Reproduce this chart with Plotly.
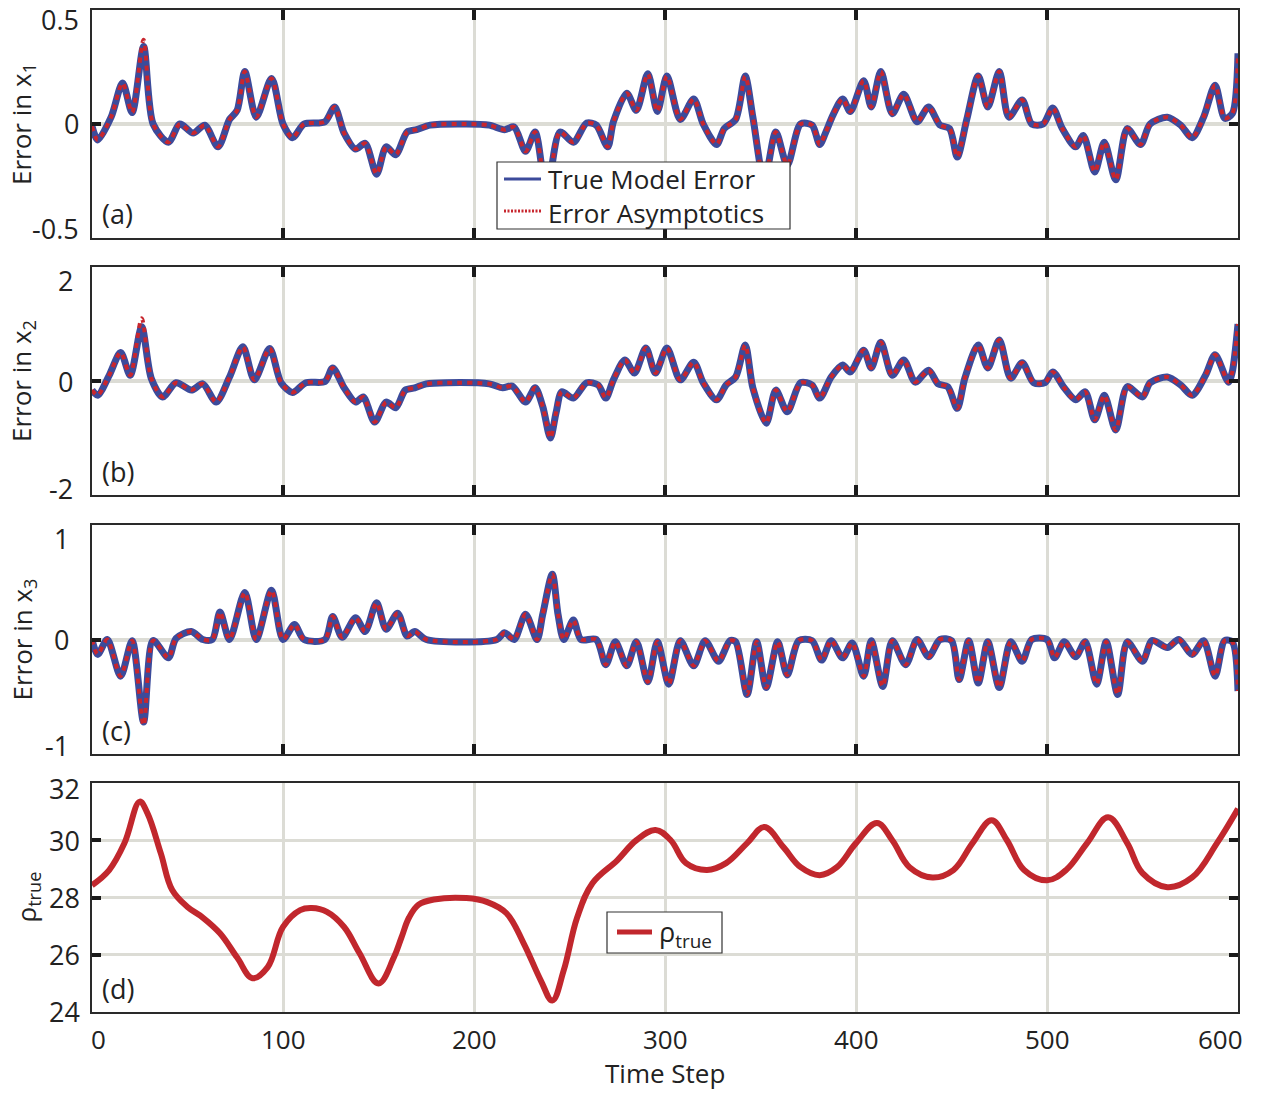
import plotly.graph_objects as go

# ---------------- data ----------------
t_a = [0, 3, 10, 16, 21, 27, 32, 40, 46, 53, 59, 66, 72, 76, 80, 86, 94, 100, 105, 111,
       122, 127, 132, 138, 143, 149, 154, 159, 165, 170, 177, 196, 208, 216, 221, 227,
       232, 238, 245, 252, 259, 264, 270, 273, 280, 285, 291, 296, 301, 308, 315, 320,
       327, 331, 337, 342, 346, 352, 358, 364, 371, 377, 381, 384, 388, 393, 397, 404,
       408, 413, 419, 425, 432, 438, 444, 449, 453, 458, 464, 469, 475, 480, 487, 492,
       498, 503, 508, 515, 519, 525, 530, 536, 542, 549, 554, 563, 570, 576, 582, 588,
       593, 597, 600]
err_x1 = [-0.01, -0.07, 0.03, 0.18, 0.05, 0.34, 0.0, -0.08, 0.0, -0.04, -0.005, -0.10,
          0.02, 0.06, 0.23, 0.03, 0.20, 0.0, -0.06, 0.0, 0.01, 0.075, -0.04, -0.11,
          -0.085, -0.22, -0.10, -0.135, -0.035, -0.025, -0.005, 0.0, -0.005, -0.025,
          -0.013, -0.12, -0.035, -0.30, -0.035, -0.08, 0.004, -0.005, -0.10, 0.01, 0.135,
          0.06, 0.22, 0.055, 0.21, 0.02, 0.11, 0.0, -0.09, -0.02, 0.02, 0.21, 0.03, -0.25,
          -0.035, -0.18, 0.0, -0.005, -0.09, -0.04, 0.04, 0.11, 0.055, 0.19, 0.075, 0.23,
          0.045, 0.13, 0.01, 0.075, -0.005, -0.02, -0.145, 0.02, 0.21, 0.075, 0.23, 0.03,
          0.105, 0.0, 0.0, 0.07, -0.02, -0.10, -0.05, -0.21, -0.08, -0.245, -0.02, -0.09,
          0.0, 0.03, -0.005, -0.06, 0.03, 0.17, 0.025, 0.045, 0.31]
err_x1_asym_peaks = {27: 0.37}

t_b = [0, 3, 9, 15, 20, 26, 31, 37, 44, 52, 58, 65, 72, 79, 85, 93, 99, 105, 112, 122,
       126, 132, 138, 142, 148, 154, 159, 164, 169, 175, 186, 208, 215, 220, 227, 232,
       236, 240, 243, 246, 252, 259, 265, 269, 273, 279, 284, 290, 295, 301, 308, 315,
       320, 327, 332, 337, 342, 346, 353, 358, 364, 371, 377, 381, 387, 393, 397, 404,
       408, 413, 419, 425, 431, 438, 443, 448, 453, 457, 464, 469, 475, 481, 487, 493,
       499, 503, 509, 515, 520, 525, 530, 536, 542, 550, 554, 563, 570, 576, 583, 588,
       595, 597, 600]
err_x2 = [-0.16, -0.25, 0.1, 0.5, 0.1, 0.95, 0.05, -0.28, -0.03, -0.16, -0.05, -0.37,
          0.07, 0.6, 0.02, 0.57, -0.03, -0.2, -0.03, -0.01, 0.23, -0.12, -0.37, -0.28,
          -0.72, -0.37, -0.47, -0.16, -0.12, -0.05, -0.03, -0.05, -0.12, -0.09, -0.37,
          -0.12, -0.45, -1.0, -0.55, -0.19, -0.3, -0.03, -0.07, -0.3, 0.02, 0.37, 0.14,
          0.58, 0.14, 0.58, 0.02, 0.33, -0.03, -0.33, -0.07, 0.07, 0.63, -0.12, -0.74,
          -0.16, -0.54, -0.03, -0.07, -0.3, 0.07, 0.28, 0.16, 0.54, 0.23, 0.68, 0.1, 0.37,
          -0.02, 0.19, -0.05, -0.1, -0.48, 0.05, 0.63, 0.23, 0.72, 0.05, 0.32, -0.03,
          -0.03, 0.16, -0.12, -0.33, -0.19, -0.68, -0.25, -0.86, -0.1, -0.28, -0.03, 0.07,
          -0.07, -0.25, 0.1, 0.46, -0.02, 0.16, 1.0]
err_x2_asym_peaks = {26: 1.1}

t_c = [0, 3, 8, 15, 21, 27, 32, 40, 44, 52, 58, 63, 67, 72, 80, 86, 94, 100, 106, 111,
       122, 126, 131, 138, 143, 149, 154, 160, 165, 169, 175, 212, 216, 221, 227, 233,
       236, 241, 244, 247, 252, 256, 264, 269, 274, 280, 285, 291, 296, 302, 308, 315,
       321, 328, 334, 337, 343, 348, 353, 359, 364, 370, 377, 382, 387, 393, 398, 404,
       408, 414, 419, 426, 432, 438, 444, 450, 454, 459, 464, 469, 475, 481, 487, 492,
       500, 504, 509, 515, 520, 526, 531, 537, 542, 550, 555, 563, 569, 576, 582, 588,
       593, 597, 600]
err_x3 = [0.0, -0.13, 0.0, -0.32, -0.01, -0.72, -0.01, -0.16, 0.01, 0.07, 0.0, 0.0, 0.24,
          0.0, 0.41, 0.0, 0.43, 0.0, 0.13, 0.0, 0.0, 0.2, 0.02, 0.19, 0.07, 0.32, 0.09,
          0.23, 0.03, 0.07, 0.0, 0.0, 0.06, 0.0, 0.22, 0.0, 0.22, 0.57, 0.22, 0.0, 0.17,
          0.0, 0.0, -0.22, -0.02, -0.23, -0.02, -0.37, -0.02, -0.39, -0.01, -0.23, -0.01,
          -0.19, -0.01, -0.02, -0.48, -0.02, -0.42, -0.02, -0.31, -0.01, -0.01, -0.18,
          -0.01, -0.16, -0.03, -0.32, -0.01, -0.41, -0.01, -0.22, 0.0, -0.15, 0.0, -0.01,
          -0.35, -0.01, -0.38, -0.02, -0.42, -0.02, -0.19, 0.0, 0.0, -0.16, -0.02, -0.15,
          -0.02, -0.39, -0.02, -0.48, -0.02, -0.19, -0.01, -0.07, 0.0, -0.13, -0.01, -0.32,
          -0.01, -0.02, -0.45]
err_x3_asym_peaks = {27: -0.75}

t_d = [0, 9, 17, 25, 29, 36, 42, 50, 58, 67, 76, 84, 92, 100, 109, 115, 123, 132, 140,
       150, 158, 162, 166, 171, 179, 196, 207, 217, 226, 235, 241, 247, 254, 262, 275,
       285, 295, 303, 311, 322, 332, 343, 352, 362, 371, 381, 390, 400, 411, 419, 428,
       440, 451, 461, 471, 479, 488, 500, 510, 521, 532, 542, 550, 563, 576, 589, 600]
rho_true = [28.43, 28.96, 29.9, 31.35, 30.95, 29.55, 28.26, 27.67, 27.3, 26.75, 25.9,
            25.18, 25.57, 26.97, 27.56, 27.63, 27.5, 26.97, 26.06, 25.0, 25.9, 26.6, 27.3,
            27.75, 27.93, 27.98, 27.84, 27.45, 26.4, 25.1, 24.4, 25.46, 27.3, 28.5, 29.3,
            30.0, 30.36, 30.0, 29.2, 28.96, 29.2, 29.9, 30.46, 29.76, 29.06, 28.78, 29.06,
            29.9, 30.6, 30.0, 29.06, 28.7, 28.96, 29.9, 30.7, 30.0, 28.96, 28.6, 28.96,
            29.9, 30.8, 29.9, 28.85, 28.36, 28.7, 29.9, 31.1]

x_ticks = [0, 100, 200, 300, 400, 500, 600]
y_ticks_a = [-0.5, 0, 0.5]
y_ticks_b = [-2, 0, 2]
y_ticks_c = [-1, 0, 1]
y_ticks_d = [24, 26, 28, 30, 32]
y_titles = ["Error in x<sub>1</sub>", "Error in x<sub>2</sub>", "Error in x<sub>3</sub>",
            "ρ<sub>true</sub>"]
panel_labels = ["(a)", "(b)", "(c)", "(d)"]
legend_a_names = ["True Model Error", "Error Asymptotics"]
legend_d_name = "ρ<sub>true</sub>"
x_title = "Time Step"


def with_peaks(vals, ts, peaks):
    out = list(vals)
    for k, v in peaks.items():
        out[ts.index(k)] = v
    return out


# ---------------- styling / layout ----------------
W, H = 1265, 1093
FONT = "Open Sans"
TXT = "#222222"
BLUE = "#3c4b9b"
RED = "#c8262e"
GRID = "#dcdcd5"
FRAME = "#2a2a2a"

x0_px, x1_px = 92, 1238
panels_px = [(10, 238), (267, 495), (525, 754), (783, 1012)]


def px_x(p):
    return p / W


def px_y(p):
    return 1 - p / H


fig = go.Figure()

series = [
    (t_a, err_x1, err_x1_asym_peaks),
    (t_b, err_x2, err_x2_asym_peaks),
    (t_c, err_x3, err_x3_asym_peaks),
]
for i, (tt, vv, pk) in enumerate(series):
    xa = "x" if i == 0 else f"x{i+1}"
    ya = "y" if i == 0 else f"y{i+1}"
    fig.add_trace(go.Scatter(
        x=tt, y=vv, mode="lines", xaxis=xa, yaxis=ya,
        name=legend_a_names[0], showlegend=False,
        line=dict(color=BLUE, width=7, shape="spline", smoothing=0.8)))
    fig.add_trace(go.Scatter(
        x=tt, y=with_peaks(vv, tt, pk), mode="lines", xaxis=xa, yaxis=ya,
        name=legend_a_names[1], showlegend=False,
        line=dict(color=RED, width=4, dash="5px,5px", shape="spline", smoothing=0.8)))

fig.add_trace(go.Scatter(
    x=t_d, y=rho_true, mode="lines", xaxis="x4", yaxis="y4",
    name=legend_d_name, showlegend=False,
    line=dict(color="#c1272d", width=6, shape="spline", smoothing=1.1)))

xdom = [px_x(x0_px), px_x(x1_px)]
yranges = [(-0.5, 0.5), (-2, 2), (-1, 1), (24, 32)]
yticks = [y_ticks_a, y_ticks_b, y_ticks_c, y_ticks_d]

layout = dict(
    width=W, height=H, template="none",
    paper_bgcolor="white", plot_bgcolor="white",
    margin=dict(l=0, r=0, t=0, b=0),
    font=dict(family=FONT, size=26, color=TXT),
    showlegend=False,
)

for i, (top, bot) in enumerate(panels_px):
    k = "" if i == 0 else str(i + 1)
    last = (i == 3)
    layout["xaxis" + k] = dict(
        domain=xdom, range=[0, 600], anchor="y" + k,
        tickvals=x_ticks, showticklabels=False,
        ticks="" if last else "inside", ticklen=10, tickwidth=4, tickcolor="#1a1a1a",
        showgrid=True, gridcolor=GRID, gridwidth=3,
        showline=True, linecolor=FRAME, linewidth=2, mirror="ticks" if not last else True,
        zeroline=False, automargin=False, fixedrange=True,
    )
    ya = dict(
        domain=[px_y(bot), px_y(top)], range=list(yranges[i]), anchor="x" + k,
        tickvals=yticks[i], showticklabels=False,
        ticks="inside", ticklen=9, tickwidth=4, tickcolor="#1a1a1a",
        showline=True, linecolor=FRAME, linewidth=2, mirror="ticks",
        automargin=False, fixedrange=True,
    )
    if last:
        ya.update(showgrid=True, gridcolor=GRID, gridwidth=3, zeroline=False)
    else:
        ya.update(showgrid=False, zeroline=True, zerolinecolor=GRID, zerolinewidth=4)
    layout["yaxis" + k] = ya

annotations = []
shapes = []

# y tick labels (edge labels nudged inward, as in the reference)
ylab_right_px = [81, 75, 71, 82]
ylab_shift = [{0: 9, 1: 0, 2: -10}, {0: 7, 1: 0, 2: -13}, {0: 9, 1: 0, 2: -13},
              {0: 1, 1: 0, 2: 0, 3: 0, 4: -5}]
for i in range(4):
    k = "" if i == 0 else str(i + 1)
    for j, v in enumerate(yticks[i]):
        annotations.append(dict(
            text=f"{v:g}", xref="paper", yref="y" + k, x=px_x(ylab_right_px[i]), y=v,
            xanchor="right", yanchor="middle", yshift=ylab_shift[i].get(j, 0),
            showarrow=False, font=dict(size=27, family=FONT, color=TXT)))

# x tick labels on bottom panel
xlab_shift = {0: 6, 600: -18}
for v in x_ticks:
    annotations.append(dict(
        text=f"{v:g}", xref="x4", yref="paper", x=v, y=px_y(1039),
        xanchor="center", yanchor="middle", xshift=xlab_shift.get(v, 0),
        showarrow=False, font=dict(size=26, family=FONT, color=TXT)))

annotations.append(dict(
    text=x_title, xref="paper", yref="paper", x=px_x(665), y=0,
    xanchor="center", yanchor="bottom", showarrow=False,
    font=dict(size=26, family=FONT, color=TXT)))

ytitle_x_px = [22, 22, 22, 26]
for i, (top, bot) in enumerate(panels_px):
    mid = (top + bot) / 2
    annotations.append(dict(
        text=y_titles[i], xref="paper", yref="paper",
        x=px_x(ytitle_x_px[i]), y=px_y(mid), xanchor="center", yanchor="middle",
        textangle=-90, showarrow=False,
        font=dict(size=26, family=FONT, color=TXT)))
    annotations.append(dict(
        text=panel_labels[i], xref="paper", yref="paper",
        x=px_x(100), y=px_y(bot - 24), xanchor="left", yanchor="middle",
        showarrow=False, font=dict(size=27, family=FONT, color=TXT)))

# legend (a): box, line samples, labels (one two-line text block)
shapes.append(dict(type="rect", xref="paper", yref="paper", layer="above",
                   x0=px_x(497), x1=px_x(790), y0=px_y(229), y1=px_y(162),
                   fillcolor="white", line=dict(color="#333333", width=1.2)))
shapes.append(dict(type="line", xref="paper", yref="paper", layer="above",
                   x0=px_x(504), x1=px_x(541), y0=px_y(179), y1=px_y(179),
                   line=dict(color=BLUE, width=3)))
shapes.append(dict(type="line", xref="paper", yref="paper", layer="above",
                   x0=px_x(504), x1=px_x(541), y0=px_y(211), y1=px_y(211),
                   line=dict(color=RED, width=3, dash="2px,1.5px")))
annotations.append(dict(
    text="<br>".join(legend_a_names), xref="paper", yref="paper",
    x=px_x(546), y=px_y(195.5), xanchor="left", yanchor="middle", align="left",
    showarrow=False, font=dict(size=26, family=FONT, color=TXT)))

# legend (d)
shapes.append(dict(type="rect", xref="paper", yref="paper", layer="above",
                   x0=px_x(607), x1=px_x(722), y0=px_y(953), y1=px_y(912),
                   fillcolor="white", line=dict(color="#333333", width=1.2)))
shapes.append(dict(type="line", xref="paper", yref="paper", layer="above",
                   x0=px_x(617), x1=px_x(652), y0=px_y(932), y1=px_y(932),
                   line=dict(color="#c1272d", width=5)))
annotations.append(dict(
    text=legend_d_name, xref="paper", yref="paper", x=px_x(657), y=px_y(933),
    xanchor="left", yanchor="middle", showarrow=False,
    font=dict(size=27, family=FONT, color=TXT)))

layout["annotations"] = annotations
layout["shapes"] = shapes

fig.update_layout(**layout)
fig.write_html("out.html", config={"displayModeBar": False},
               post_script="document.body.style.margin='0px';")
